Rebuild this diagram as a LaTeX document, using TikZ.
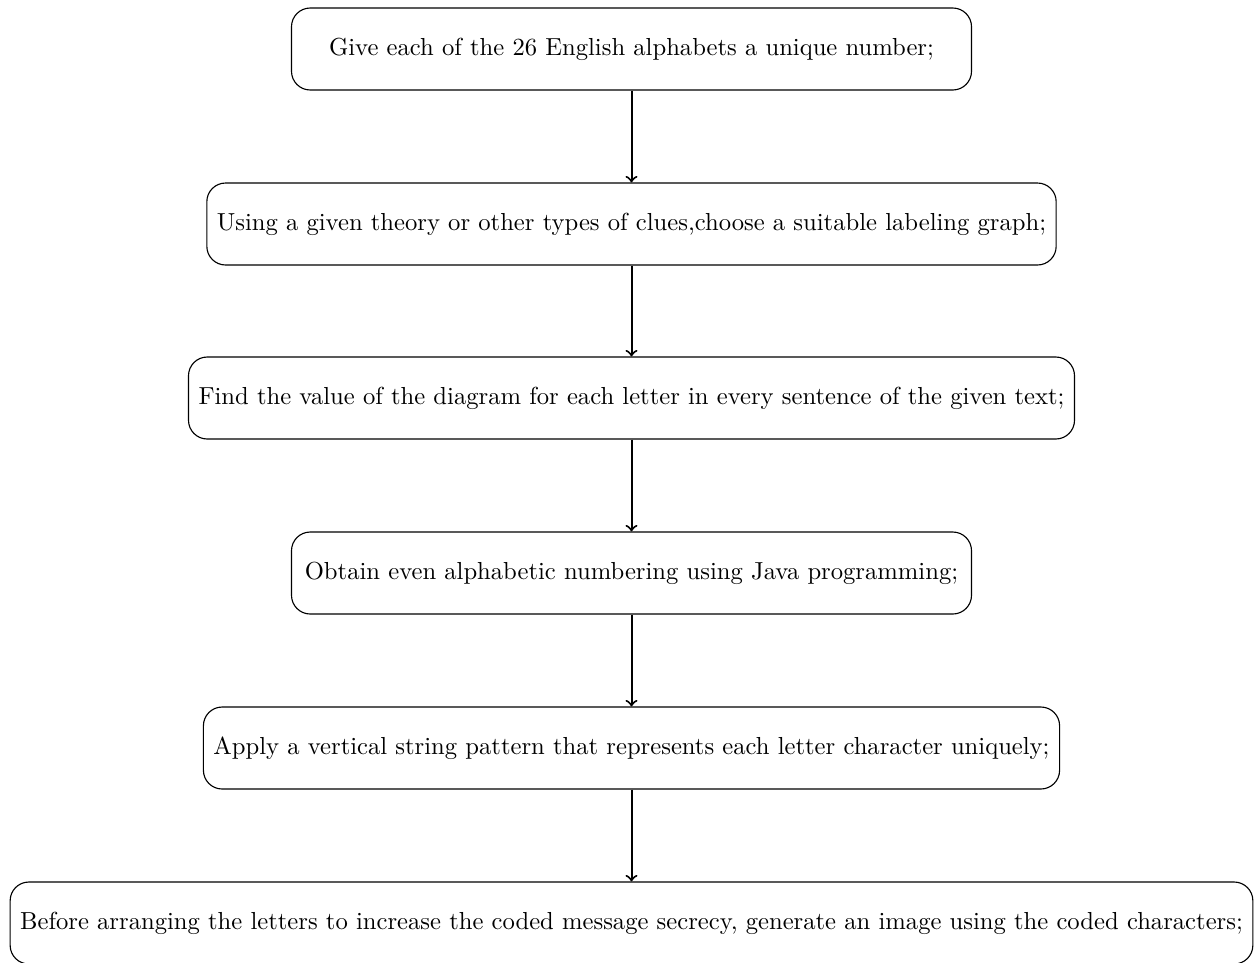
\documentclass[tikz,border=0pt]{standalone}
\begin{document}
\begin{tikzpicture}[x=0.4pt,y=-0.4pt,
  stepbox/.style={draw, line width=0.45pt, rounded corners=7.5pt, minimum height=32.8pt, inner xsep=4pt, align=center, font=\fontsize{9.85}{12}\selectfont},
  flow/.style={->, line width=0.8pt}]
\useasboundingbox (0,0) rectangle (1259,962);
\node[stepbox, minimum width=272pt] (b1) at (631.5,49) {Give each of the 26 English alphabets a unique number;};
\node[stepbox] (b2) at (631.5,224) {Using a given theory or other types of clues,choose a suitable labeling graph;};
\node[stepbox] (b3) at (631.5,398) {Find the value of the diagram for each letter in every sentence of the given text;};
\node[stepbox, minimum width=272pt] (b4) at (631.5,573) {Obtain even alphabetic numbering using Java programming;};
\node[stepbox] (b5) at (631.5,748) {Apply a vertical string pattern that represents each letter character uniquely;};
\node[stepbox] (b6) at (631.5,923) {Before arranging the letters to increase the coded message secrecy, generate an image using the coded characters;};
\draw[flow] (b1) -- (b2);
\draw[flow] (b2) -- (b3);
\draw[flow] (b3) -- (b4);
\draw[flow] (b4) -- (b5);
\draw[flow] (b5) -- (b6);
\end{tikzpicture}
\end{document}
